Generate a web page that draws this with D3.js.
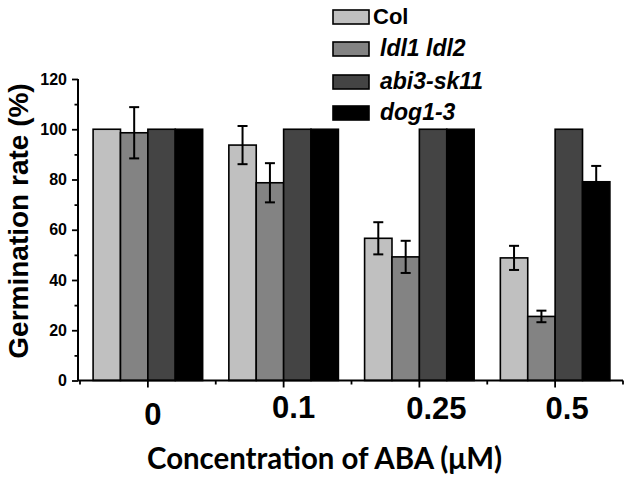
<!DOCTYPE html>
<html>
<head>
<meta charset="utf-8">
<script src="https://cdn.jsdelivr.net/npm/d3@7"></script>
<style>
  html, body { margin: 0; padding: 0; background: #fff; }
  svg { display: block; }
</style>
</head>
<body>
<svg id="chart" width="630" height="478"></svg>
<script>
// ---- data ----
const categories = ["0", "0.1", "0.25", "0.5"];
const seriesNames = ["Col", "ldl1 ldl2", "abi3-sk11", "dog1-3"];
const colValues = [100, 93.7, 56.6, 48.8];
const colErrors = [0, 7.6, 6.4, 4.8];
const ldlValues = [98.6, 78.7, 49.2, 25.5];
const ldlErrors = [10.2, 7.8, 6.4, 2.3];
const abiValues = [100, 100, 100, 100];
const abiErrors = [0, 0, 0, 0];
const dogValues = [100, 100, 100, 79.1];
const dogErrors = [0, 0, 0, 6.3];
const yTickValues = [0, 20, 40, 60, 80, 100, 120];
const yMinorTickValues = [10, 30, 50, 70, 90, 110];

const seriesValues = [colValues, ldlValues, abiValues, dogValues];
const seriesErrors = [colErrors, ldlErrors, abiErrors, dogErrors];
const colors = ["#c0c0c0", "#838383", "#444444", "#000000"];

const svg = d3.select("#chart");
const axisX0 = 78, axisX1 = 623;
const x0 = d3.scaleBand().domain(categories).range([80, 623])
  .paddingInner(0.193).paddingOuter(0.0965);
const x1 = d3.scaleBand().domain(seriesNames).range([0, x0.bandwidth()]).padding(0);
const y = d3.scaleLinear().domain([0, 120]).range([380.5, 79]);

const rows = [];
categories.forEach((c, i) => {
  seriesNames.forEach((s, j) => {
    rows.push({cat: c, ser: s, si: j, v: seriesValues[j][i], e: seriesErrors[j][i]});
  });
});

// bars
svg.append("g").selectAll("rect").data(rows).join("rect")
  .attr("x", d => x0(d.cat) + x1(d.ser))
  .attr("y", d => y(d.v))
  .attr("width", x1.bandwidth())
  .attr("height", d => y(0) - y(d.v))
  .attr("fill", d => colors[d.si])
  .attr("stroke", "#000")
  .attr("stroke-width", 1.6);

// error bars
const eg = svg.append("g").attr("stroke", "#000").attr("stroke-width", 2).attr("fill", "none");
rows.filter(d => d.e > 0).forEach(d => {
  const cx = x0(d.cat) + x1(d.ser) + x1.bandwidth() / 2;
  const yt = y(d.v + d.e), yb = y(d.v - d.e);
  eg.append("line").attr("x1", cx).attr("x2", cx).attr("y1", yt).attr("y2", yb);
  eg.append("line").attr("x1", cx - 5).attr("x2", cx + 5).attr("y1", yt).attr("y2", yt);
  eg.append("line").attr("x1", cx - 5).attr("x2", cx + 5).attr("y1", yb).attr("y2", yb);
});

// y axis
const yAxis = d3.axisLeft(y).tickValues(yTickValues).tickSize(6).tickPadding(5).tickFormat(d3.format("d"));
const gy = svg.append("g").attr("transform", `translate(${axisX0},0)`).call(yAxis);
gy.select(".domain").remove();
gy.selectAll(".tick line").attr("stroke", "#000").attr("stroke-width", 1.8);
gy.selectAll(".tick text").attr("font-family", "Liberation Sans, Arial, sans-serif")
  .attr("font-weight", "bold").attr("font-size", 16).attr("fill", "#000");
const yMinor = d3.axisLeft(y).tickValues(yMinorTickValues).tickSize(3.5).tickFormat("");
const gym = svg.append("g").attr("transform", `translate(${axisX0},0)`).call(yMinor);
gym.select(".domain").remove();
gym.selectAll(".tick line").attr("stroke", "#000").attr("stroke-width", 1.8);
svg.append("line").attr("x1", axisX0).attr("x2", axisX0).attr("y1", y(0)).attr("y2", y(120))
  .attr("stroke", "#000").attr("stroke-width", 2);

// x axis
const xAxis = d3.axisBottom(x0).tickSize(7).tickPadding(0).tickFormat("");
const gx = svg.append("g").attr("transform", `translate(0,${y(0)})`).call(xAxis);
gx.select(".domain").remove();
gx.selectAll(".tick line").attr("stroke", "#000").attr("stroke-width", 1.8);
// minor ticks at band boundaries
const boundaries = categories.map(c => x0(c) - x0.step() * x0.paddingInner() / 2);
boundaries.push(x0.range()[1]);
svg.append("g").selectAll("line").data(boundaries).join("line")
  .attr("x1", d => d).attr("x2", d => d)
  .attr("y1", y(0)).attr("y2", y(0) + 4)
  .attr("stroke", "#000").attr("stroke-width", 1.8);
svg.append("line").attr("x1", axisX0).attr("x2", axisX1).attr("y1", y(0)).attr("y2", y(0))
  .attr("stroke", "#000").attr("stroke-width", 2);

// category labels (slight nudges as in the original figure)
const labelDx = [5, 10, 17, 12];
const labelBase = [425, 418, 419, 419];
svg.append("g").selectAll("text").data(categories).join("text")
  .attr("x", (d, i) => x0(d) + x0.bandwidth() / 2 + labelDx[i])
  .attr("y", (d, i) => labelBase[i])
  .attr("text-anchor", "middle")
  .attr("font-family", "Liberation Sans, Arial, sans-serif")
  .attr("font-weight", "bold").attr("font-size", 31)
  .text(d => d);

// axis titles
svg.append("text")
  .attr("x", 324.5).attr("y", 469)
  .attr("text-anchor", "middle")
  .attr("font-family", "Lato, 'Open Sans', sans-serif")
  .attr("font-weight", "bold").attr("font-size", 30)
  .attr("textLength", 355).attr("lengthAdjust", "spacingAndGlyphs")
  .text("Concentration of ABA (μM)");

svg.append("text")
  .attr("transform", "translate(28,221) rotate(-90)")
  .attr("text-anchor", "middle")
  .attr("font-family", "Liberation Sans, Arial, sans-serif")
  .attr("font-weight", "bold").attr("font-size", 28)
  .text("Germination rate (%)");

// legend
const legendY = [10, 42, 75, 106];
const lg = svg.append("g");
seriesNames.forEach((s, i) => {
  lg.append("rect").attr("x", 333).attr("y", legendY[i]).attr("width", 36).attr("height", 14)
    .attr("fill", colors[i]).attr("stroke", "#000").attr("stroke-width", 1.6);
  lg.append("text")
    .attr("x", i === 0 ? 373 : 380)
    .attr("y", legendY[i] + 13.5)
    .attr("font-family", "Liberation Sans, Arial, sans-serif")
    .attr("font-weight", "bold")
    .attr("font-style", i === 0 ? "normal" : "italic")
    .attr("font-size", i === 0 ? 22 : 23)
    .text(s);
});
</script>
</body>
</html>
